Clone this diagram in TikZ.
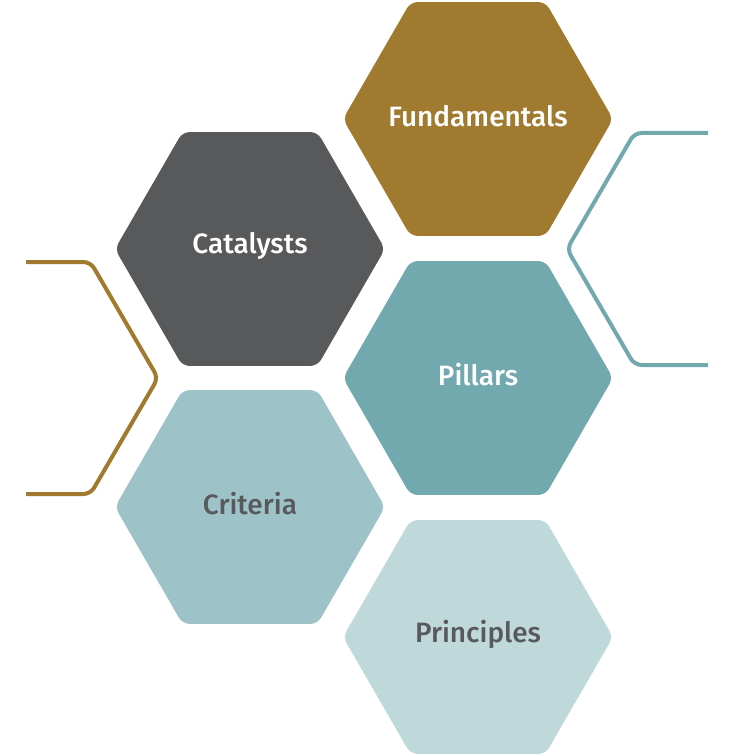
\documentclass[tikz,border=0pt]{standalone}
\usepackage{fontspec}
\setmainfont{Fira Sans}[UprightFont=* Medium,BoldFont=* SemiBold]
\usetikzlibrary{shapes.geometric}

\definecolor{hexgold}{HTML}{A07A2E}
\definecolor{hexgrey}{HTML}{58595B}
\definecolor{hexteal}{HTML}{72A9AF}
\definecolor{hexmist}{HTML}{9DC3C8}
\definecolor{hexpale}{HTML}{BFD9DB}

\begin{document}
\begin{tikzpicture}[x=1pt,y=-1pt,
    hexa/.style={regular polygon,regular polygon sides=6,minimum size=270pt,
      inner sep=0pt,rounded corners=7pt},
    word/.style={font=\fontsize{28}{32}\selectfont,inner sep=0pt},
    rim/.style={line width=4pt,rounded corners=7pt,line join=round}]
  \useasboundingbox (0,0) rectangle (735,754);
  % the five tiles
  \node[hexa,fill=hexgold] (fund) at (478,119) {};
  \node[hexa,fill=hexgrey] (cata) at (250,249) {};
  \node[hexa,fill=hexteal] (pill) at (478,378) {};
  \node[hexa,fill=hexmist] (crit) at (250,507) {};
  \node[hexa,fill=hexpale] (prin) at (478,637) {};
  % labels, a little above centre
  \node[word,white,yshift=3pt] at (fund) {Fundamentals};
  \node[word,white,yshift=3pt] at (cata) {Catalysts};
  \node[word,white,yshift=3pt] at (pill) {Pillars};
  \node[word,hexgrey,yshift=3pt] at (crit) {Criteria};
  \node[word,hexgrey,yshift=3pt] at (prin) {Principles};
  % open outlines at the sides
  \draw[rim,hexteal]
    (708,133) -- (634.5,133) -- (567,249) -- (634.5,365) -- (708,365);
  \draw[rim,hexgold]
    (26,262) -- (90.5,262) -- (158,378) -- (90.5,494) -- (26,494);
\end{tikzpicture}
\end{document}
